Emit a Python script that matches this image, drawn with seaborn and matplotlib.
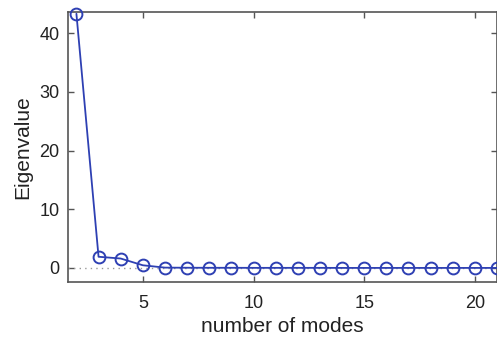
import matplotlib
matplotlib.use("Agg")
import matplotlib.pyplot as plt
import pandas as pd
import seaborn as sns

# Eigenvalue spectrum
modes = list(range(2, 22))
eigenvalues = [43.3, 1.9, 1.6, 0.45, 0.05, 0.03, 0.02, 0.02, 0.01, 0.01,
               0.01, 0.01, 0.0, 0.0, 0.0, 0.0, 0.0, 0.0, 0.0, 0.0]
x_ticks = [5, 10, 15, 20]
y_ticks = [0, 10, 20, 30, 40]

sns.set_style("white")
plt.rcParams["font.family"] = ["Liberation Sans", "DejaVu Sans"]

df = pd.DataFrame({"modes": modes, "eigenvalue": eigenvalues})

fig = plt.figure(figsize=(4.97, 3.38), dpi=100)
ax = fig.add_axes([68 / 497, 1 - 282 / 338, (497 - 68) / 497, (282 - 12) / 338])

ax.axhline(0, color="#999999", linestyle=(0, (1, 3)), linewidth=1, zorder=1)
sns.lineplot(data=df, x="modes", y="eigenvalue", ax=ax, color="#2e40b3",
             linewidth=1.3, marker="o", markersize=8.5, markerfacecolor="none",
             markeredgecolor="#2e40b3", markeredgewidth=1.4, clip_on=False,
             zorder=3)

ax.set_xlim(1.62, 21)
ax.set_ylim(-2.4, 43.6)
ax.set_xticks(x_ticks)
ax.set_yticks(y_ticks)
ax.set_xlabel("number of modes", fontsize=15, color="#222222", labelpad=4)
ax.set_ylabel("Eigenvalue", fontsize=15, color="#222222", labelpad=5)

for side in ax.spines.values():
    side.set_color("#555555")
    side.set_linewidth(1.2)
ax.tick_params(direction="in", length=4, width=1, colors="#555555",
               labelcolor="#222222", labelsize=13, top=True, right=True,
               bottom=True, left=True)
ax.tick_params(axis="x", pad=9)
ax.tick_params(axis="y", pad=6)

fig.savefig("out.png", dpi=100)
